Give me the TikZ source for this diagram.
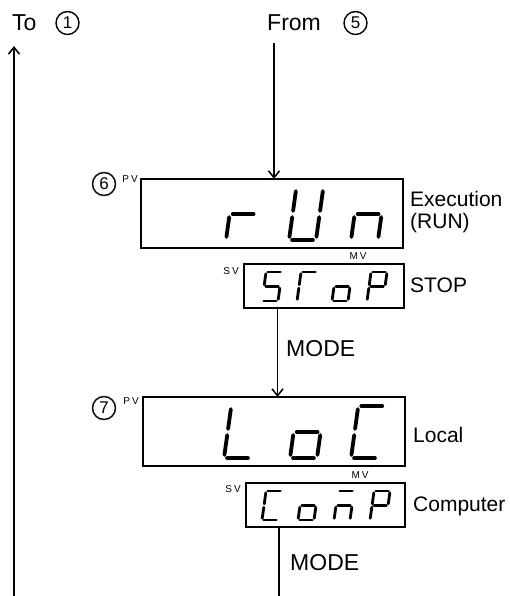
\documentclass[tikz,border=0pt]{standalone}
\usepackage{fontspec}
\setmainfont{Liberation Sans}
\usetikzlibrary{arrows.meta}
\newcommand\segdigit[6]{%
  \begin{scope}[shift={(#1,#2)}, y=1pt, xslant=0.14]
    \pgfmathsetmacro\sgH{#3}\pgfmathsetmacro\sgW{#4}%
    \pgfmathsetmacro\sgM{#3/2}\pgfmathsetmacro\sgg{#3/17}%
    \coordinate (sga1) at (\sgg,\sgH); \coordinate (sga2) at (\sgW-\sgg,\sgH);
    \coordinate (sgb1) at (\sgW,\sgH-\sgg); \coordinate (sgb2) at (\sgW,\sgM+\sgg);
    \coordinate (sgc1) at (\sgW,\sgM-\sgg); \coordinate (sgc2) at (\sgW,\sgg);
    \coordinate (sgd1) at (\sgg,0); \coordinate (sgd2) at (\sgW-\sgg,0);
    \coordinate (sge1) at (0,\sgg); \coordinate (sge2) at (0,\sgM-\sgg);
    \coordinate (sgf1) at (0,\sgM+\sgg); \coordinate (sgf2) at (0,\sgH-\sgg);
    \coordinate (sgg1) at (\sgg,\sgM); \coordinate (sgg2) at (\sgW-\sgg,\sgM);
    \foreach \s in {#5}{\draw[line width=#6pt, line cap=round] (sg\s1) -- (sg\s2);}
  \end{scope}}
\tikzset{
  dispbox/.style={draw, line width=1.1pt, inner sep=0pt, outer sep=0pt},
  conn/.style={line width=1.4pt},
  arr/.style={conn, -{Straight Barb[length=7pt,width=11pt,line width=1.5pt]}},
  lbl/.style={anchor=base west, inner sep=0pt, font=\fontsize{21}{25}\selectfont},
  bigl/.style={anchor=base west, inner sep=0pt, font=\fontsize{23}{27}\selectfont},
  tiny/.style={inner sep=0pt, font=\fontsize{10}{12}\selectfont},
  circnum/.style={draw, circle, line width=1.4pt, minimum size=23pt, inner sep=0pt, font=\fontsize{17}{20}\selectfont}
}
\begin{document}
\begin{tikzpicture}[x=1pt, y=-1pt]
\useasboundingbox (0,0) rectangle (509,596);
% top labels
\node[bigl] (to) at (12,31) {To};
\node[circnum] (c1) at (67.5,23) {1};
\node[bigl] (from) at (267,31) {From};
\node[circnum] (c5) at (355.5,23) {5};
% display boxes
\node[dispbox, minimum width=262pt, minimum height=69pt] (run) at (272,213.5) {};
\node[dispbox, minimum width=160pt, minimum height=44pt] (stop) at (324,286) {};
\node[dispbox, minimum width=262pt, minimum height=69pt] (loc) at (274,431.5) {};
\node[dispbox, minimum width=159pt, minimum height=44pt] (comp) at (325.5,505) {};
% step numbers
\node[circnum] (c6) at (104,184) {6};
\node[circnum] (c7) at (104,408) {7};
% small labels
\node[tiny] (pv1) at (130,179) {P\kern2pt V};
\node[tiny] (sv1) at (231,271) {S\kern2pt V};
\node[tiny] (mv1) at (358,256) {M\kern2pt V};
\node[tiny] (pv2) at (131,401) {P\kern2pt V};
\node[tiny] (sv2) at (233,489) {S\kern2pt V};
\node[tiny] (mv2) at (360,475) {M\kern2pt V};
% right labels
\node[lbl] (exe) at (410,206) {Execution};
\node[lbl] (runl) at (410,228) {(RUN)};
\node[lbl] (stopl) at (410,292) {STOP};
\node[lbl] (locl) at (413,442) {Local};
\node[lbl] (compl) at (413,511) {Computer};
% MODE labels
\node[bigl] (mode1) at (286,356) {MODE};
\node[bigl] (mode2) at (290,570) {MODE};
% connectors
\coordinate (f5) at (274,43);
\draw[arr] (f5) -- (f5 |- run.north);
\coordinate (mx1) at (277.5,0);
\draw[arr] (mx1 |- stop.south) -- (mx1 |- loc.north);
\coordinate (bot2) at (279,596);
\draw[conn] (bot2 |- comp.south) -- (bot2);
\coordinate (bot1) at (14,596);
\coordinate (top1) at (14,46);
\draw[arr] (bot1) -- (top1);
% seven segment digits
\segdigit{226}{240}{52}{27}{e,g}{3.8}
\segdigit{289}{240}{52}{27}{b,c,d,e,f}{3.8}
\segdigit{351}{240}{52}{27}{c,e,g}{3.8}
\segdigit{262}{301}{29}{16}{a,f,g,c,d}{2.8}
\segdigit{297}{301}{29}{16}{a,f,e}{2.8}
\segdigit{332}{301}{29}{16}{g,c,d,e}{2.8}
\segdigit{367}{301}{29}{16}{a,b,f,g,e}{2.8}
\segdigit{224}{458}{52}{27}{f,e,d}{3.8}
\segdigit{290}{458}{52}{27}{g,c,d,e}{3.8}
\segdigit{351}{458}{52}{27}{a,f,e,d}{3.8}
\segdigit{262}{520}{29}{16}{a,f,e,d}{2.8}
\segdigit{298}{520}{29}{16}{g,c,d,e}{2.8}
\segdigit{334}{520}{29}{16}{a,g,e,c}{2.8}
\segdigit{370}{520}{29}{16}{a,b,f,g,e}{2.8}
\end{tikzpicture}
\end{document}
